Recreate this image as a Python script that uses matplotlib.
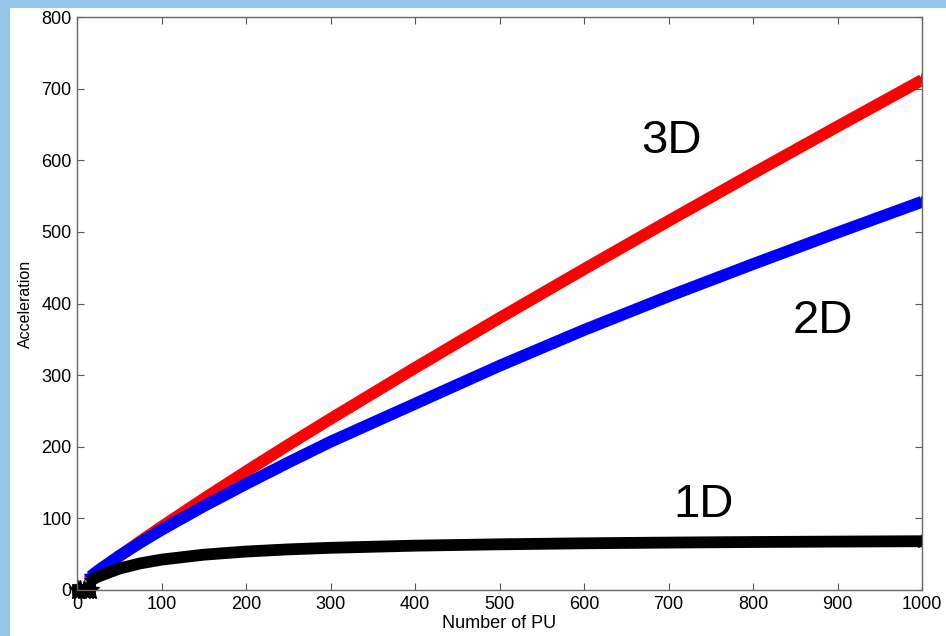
import matplotlib
matplotlib.use("Agg")
import matplotlib.pyplot as plt
from matplotlib.patches import Rectangle

plt.rcParams['font.family'] = ['Liberation Sans', 'DejaVu Sans']

# number of processing units
pu = [16, 25, 50, 75, 100, 150, 200, 250, 300, 400, 500, 600, 700, 800, 900, 1000]

# acceleration for each problem dimension
acc_3d = [16.7, 25.1, 47.0, 68.0, 88.2, 127.4, 165.4, 202.6, 238.9, 310.1,
          379.7, 447.9, 515.2, 581.6, 647.1, 712.0]
acc_2d = [18.9, 27.1, 47.6, 66.2, 84.0, 117.0, 148.0, 178.0, 207.0, 260.0,
          313.0, 363.0, 410.0, 455.0, 499.0, 542.0]
acc_1d = [13.3, 18.8, 29.9, 37.2, 42.4, 49.3, 53.7, 56.7, 58.9, 61.9,
          63.8, 65.2, 66.2, 67.0, 67.6, 68.1]

# runs below 16 PU gave no speed-up
pu_small = [1, 4, 8, 12, 15]
acc_small = [0, 0, 0, 0, 0]

fig = plt.figure(figsize=(9.46, 6.36), dpi=100, facecolor='#93c6e9')
fig.patches.append(Rectangle((10 / 946, 0), 1, 1 - 8 / 636, transform=fig.transFigure,
                             facecolor='white', edgecolor='none', zorder=-10))

ax = fig.add_axes([77 / 946, 1 - 590 / 636, 845 / 946, 573 / 636])
ax.set_zorder(5)
ax.set_facecolor('white')

lw = 8.5
for y, c in [(acc_3d, 'red'), (acc_2d, 'blue'), (acc_1d, 'black')]:
    ax.plot(pu, y, color=c, lw=lw, solid_capstyle='butt',
            marker='*', markersize=10, markevery=[0, len(pu) - 1])
ax.plot(pu_small, acc_small, color='black', lw=lw, marker='*', markersize=14,
        clip_on=False)

ax.text(703, 610, '3D', fontsize=34, ha='center', va='baseline')
ax.text(883, 359, '2D', fontsize=34, ha='center', va='baseline')
ax.text(742, 102, '1D', fontsize=34, ha='center', va='baseline')

ax.set_xlim(0, 1000)
ax.set_ylim(0, 800)
ax.set_xticks(range(0, 1001, 100))
ax.set_yticks(range(0, 801, 100))
ax.tick_params(direction='in', length=5, width=0.8, color='#555555',
               top=True, right=True, labelsize=13, pad=4)
for s in ax.spines.values():
    s.set_color('#666666')
    s.set_linewidth(1)

ax.set_xlabel('Number of PU', fontsize=13, labelpad=2)
ax.set_ylabel('Acceleration', fontsize=11.5, labelpad=6)

fig.savefig('out.png', dpi=100, facecolor=fig.get_facecolor())
